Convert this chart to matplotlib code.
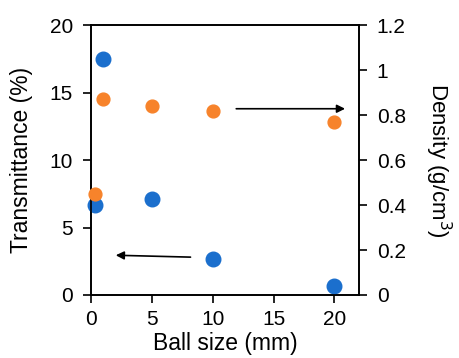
import matplotlib.pyplot as plt
from matplotlib.ticker import FuncFormatter

plt.rcParams['font.family'] = ['Liberation Sans', 'DejaVu Sans']

ball_size_t = [0.35, 1, 5, 10, 20]
transmittance = [6.7, 17.5, 7.1, 2.7, 0.7]
ball_size_d = [0.35, 1, 5, 10, 20]
density = [0.45, 0.87, 0.84, 0.82, 0.77]

blue = '#1b6fcd'
orange = '#f7832b'

fig = plt.figure(figsize=(4.6, 3.58), dpi=100)
ax = fig.add_axes([0.198, 0.176, 0.582, 0.754])
ax2 = ax.twinx()

ax.scatter(ball_size_t, transmittance, s=110, c=blue, zorder=3, clip_on=False)
ax2.scatter(ball_size_d, density, s=85, c=orange, zorder=3, clip_on=False)

ax.set_xlim(0, 22)
ax.set_ylim(0, 20)
ax2.set_ylim(0, 1.2)
ax.set_xticks([0, 5, 10, 15, 20])
ax.set_yticks([0, 5, 10, 15, 20])
ax2.set_yticks([0, 0.2, 0.4, 0.6, 0.8, 1.0, 1.2])
ax2.yaxis.set_major_formatter(FuncFormatter(lambda v, p: f'{v:g}'))

for a in (ax, ax2):
    a.tick_params(labelsize=15, length=6, width=1.2, direction='out', pad=7)
    for sp in a.spines.values():
        sp.set_linewidth(1.2)
ax.tick_params(axis='x', pad=5)

ax.set_xlabel('Ball size (mm)', fontsize=16.5, labelpad=2)
ax.set_ylabel('Transmittance (%)', fontsize=16.5, labelpad=12)
ax2.set_ylabel('Density (g/cm$^3$)', fontsize=16, rotation=270, labelpad=34)

# arrows pointing to each axis
ax.annotate('', xy=(1.8, 2.95), xytext=(8.4, 2.8),
            arrowprops=dict(arrowstyle='-|>', color='black', lw=1.2, mutation_scale=12))
ax.annotate('', xy=(21.1, 13.8), xytext=(11.7, 13.8),
            arrowprops=dict(arrowstyle='-|>', color='black', lw=1.2, mutation_scale=12))

fig.savefig('out.png', dpi=100)
